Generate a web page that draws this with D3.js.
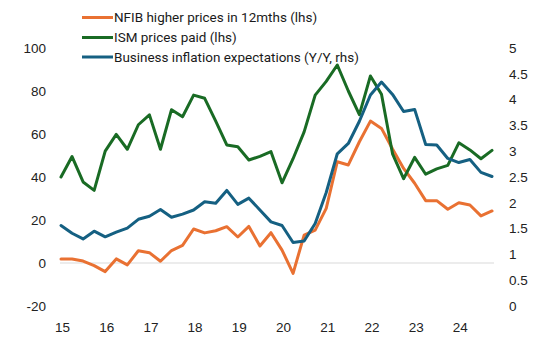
<!DOCTYPE html>
<html>
<head>
<meta charset="utf-8">
<script src="https://cdn.jsdelivr.net/npm/d3@7"></script>
<style>
  body { margin: 0; background: #fff; }
  svg { display: block; }
  .axis text { font-family: "Liberation Sans", Arial, sans-serif; font-size: 13.5px; fill: #222; }
  .legend text { font-family: Roboto, "Noto Sans", sans-serif; fill: #1a1a1a; }
</style>
</head>
<body>
<svg id="chart"></svg>
<script>
// quarterly, 2015Q1 .. 2024Q4
const quarters = d3.range(40).map(i => (2015 + Math.floor(i / 4)) + "Q" + (i % 4 + 1));
const yearLabels = ["15", "16", "17", "18", "19", "20", "21", "22", "23", "24"];

const nfib = [1.9, 1.9, 0.9, -1.2, -4, 1.9, -0.9, 5.7, 4.8, 0.8,
  5.8, 8.2, 15.8, 14, 15, 16.9, 12.1, 17, 7.9, 14.1,
  6, -4.8, 13, 15.3, 25.4, 47.1, 45.6, 56.4, 66, 62.6,
  53, 44, 37.1, 29, 29, 25, 28, 27, 21.9, 24.2];

const ism = [40, 49.5, 37.7, 33.8, 52, 59.8, 52.9, 64.3, 68.9, 52.9,
  71.3, 68, 78.1, 76.6, 66, 54.9, 54.1, 47.9, 49.6, 51.8,
  37.3, 48.5, 61, 78.1, 84.5, 92.1, 80, 69, 87, 78.5,
  50.8, 39.2, 49.1, 41.3, 43.8, 45.4, 55.9, 52.6, 48.5, 52.4];

const bizExp = [1.56, 1.41, 1.30, 1.45, 1.34, 1.43, 1.51, 1.68, 1.74, 1.87,
  1.72, 1.78, 1.86, 2.02, 1.99, 2.24, 1.97, 2.09, 1.86, 1.63,
  1.56, 1.23, 1.26, 1.60, 2.2, 2.95, 3.15, 3.58, 4.09, 4.34,
  4.1, 3.77, 3.81, 3.13, 3.12, 2.86, 2.78, 2.84, 2.59, 2.51];

const leftTicks = [-20, 0, 20, 40, 60, 80, 100];
const rightTicks = [0, 0.5, 1, 1.5, 2, 2.5, 3, 3.5, 4, 4.5, 5];

const series = [
  { name: "NFIB higher prices in 12mths (lhs)", values: nfib, axis: "left", color: "#e97132" },
  { name: "ISM prices paid (lhs)", values: ism, axis: "left", color: "#196b24" },
  { name: "Business inflation expectations (Y/Y, rhs)", values: bizExp, axis: "right", color: "#156082" }
];

const width = 542, height = 350;
const svg = d3.select("#chart").attr("width", width).attr("height", height);

const x = d3.scalePoint().domain(quarters).range([61, 492]);
const yL = d3.scaleLinear().domain([-20, 100]).range([306, 48]);
const yR = d3.scaleLinear().domain([0, 5]).range([306, 48]);

// zero line
svg.append("line")
  .attr("x1", 60).attr("x2", 494)
  .attr("y1", yL(0)).attr("y2", yL(0))
  .attr("stroke", "#d9d9d9").attr("stroke-width", 1);

// axes (plain hyphen for negatives, like the original)
svg.append("g").attr("class", "axis")
  .attr("transform", "translate(49,0)")
  .call(d3.axisLeft(yL).tickValues(leftTicks).tickSize(0).tickPadding(3).tickFormat(d => String(d)));
svg.append("g").attr("class", "axis")
  .attr("transform", "translate(506,0)")
  .call(d3.axisRight(yR).tickValues(rightTicks).tickSize(0).tickPadding(3).tickFormat(d => String(d)));
const q1 = quarters.filter(q => q.endsWith("Q1"));
svg.append("g").attr("class", "axis")
  .attr("transform", "translate(1,316)")
  .call(d3.axisBottom(x).tickValues(q1).tickSize(0).tickPadding(6)
    .tickFormat((d, i) => yearLabels[i]));
svg.selectAll(".axis .domain").remove();

// lines
series.forEach(s => {
  const yS = s.axis === "left" ? yL : yR;
  const line = d3.line()
    .x((d, i) => x(quarters[i]))
    .y(d => yS(d));
  svg.append("path")
    .datum(s.values)
    .attr("fill", "none")
    .attr("stroke", s.color)
    .attr("stroke-width", 3)
    .attr("stroke-linejoin", "round")
    .attr("stroke-linecap", "round")
    .attr("d", line);
});

// legend
const legend = svg.append("g").attr("class", "legend");
const rowY = [17.5, 37.5, 57];
series.forEach((s, i) => {
  legend.append("line")
    .attr("x1", 82).attr("x2", 113)
    .attr("y1", rowY[i]).attr("y2", rowY[i])
    .attr("stroke", s.color).attr("stroke-width", 3);
  legend.append("text")
    .attr("x", 114).attr("y", rowY[i])
    .attr("dy", "0.35em")
    .style("font-size", "14px")
    .text(s.name);
});
// fit legend font to the reference width of the longest entry
const longest = legend.selectAll("text").nodes()[2];
const fs = 14 * 245 / longest.getComputedTextLength();
legend.selectAll("text").style("font-size", fs + "px");
</script>
</body>
</html>
